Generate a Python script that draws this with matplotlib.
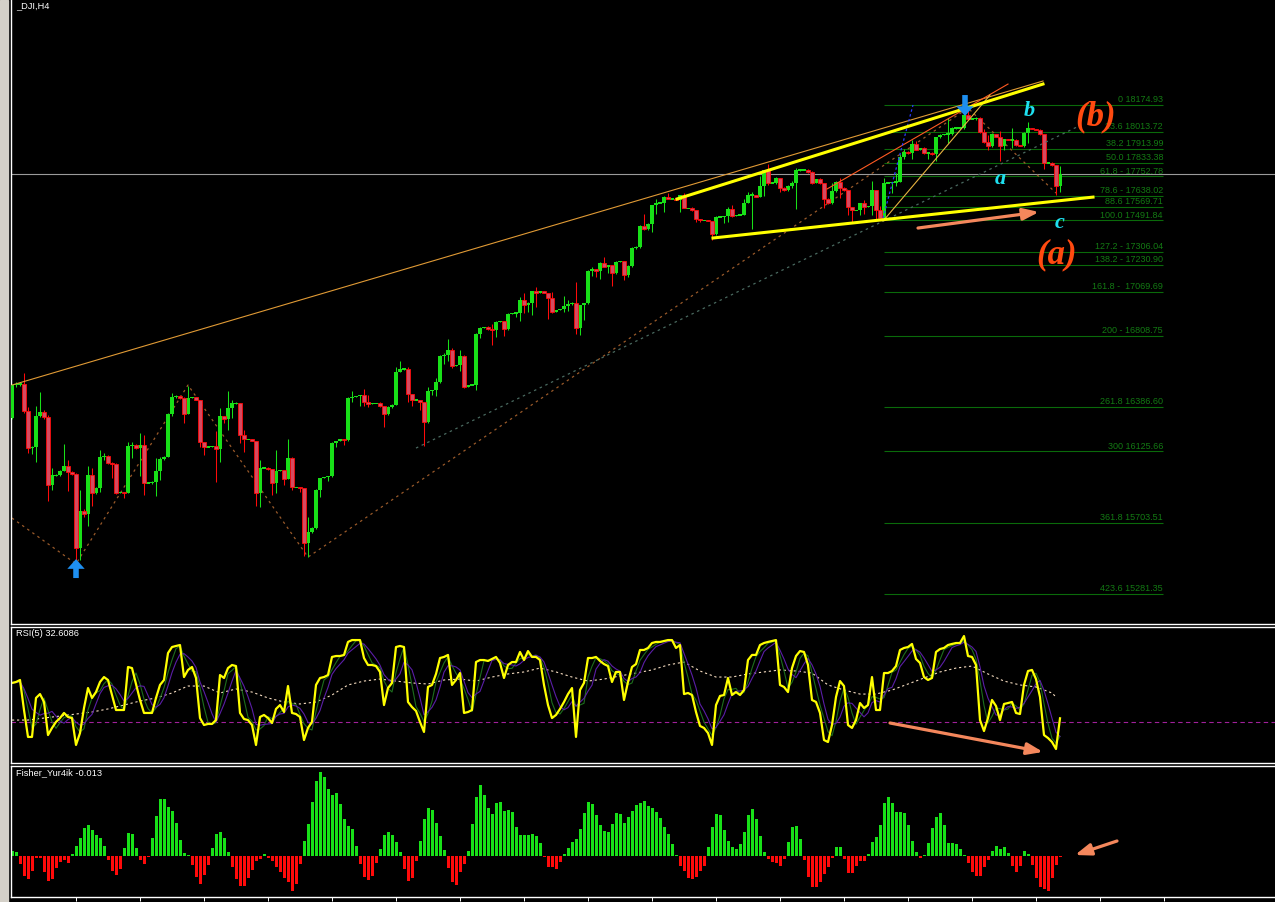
import matplotlib.pyplot as plt
import numpy as np
import pandas as pd
from matplotlib.patches import Rectangle

# H4 candles, close prices (open = previous close)
first_open = 16323
closes = [
    16518, 16524, 16524, 16364, 16145, 16151, 16335, 16358, 16329, 15926,
    15985, 15985, 16009, 16039, 16003, 15991, 15553, 15772, 15755, 15985,
    15879, 15909, 16092, 16098, 16056, 16050, 15879, 15885, 15879, 16157,
    16163, 16145, 16163, 15938, 15938, 15944, 16009, 16080, 16092, 16346,
    16447, 16453, 16441, 16346, 16441, 16447, 16429, 16181, 16151, 16151,
    16157, 16139, 16335, 16317, 16382, 16411, 16411, 16222, 16198, 16198,
    16187, 15879, 16027, 16027, 16021, 15938, 16009, 16015, 15962, 16086,
    15914, 15914, 15909, 15583, 15648, 15672, 15897, 15968, 15974, 15980,
    16175, 16187, 16198, 16192, 16441, 16447, 16453, 16459, 16417, 16405,
    16411, 16411, 16394, 16346, 16388, 16400, 16595, 16613, 16613, 16465,
    16429, 16429, 16417, 16299, 16482, 16488, 16536, 16690, 16695, 16725,
    16630, 16636, 16690, 16506, 16518, 16518, 16820, 16855, 16861, 16849,
    16843, 16891, 16897, 16849, 16938, 16944, 16944, 17021, 16991, 17003,
    17074, 17062, 17074, 17062, 17033, 16950, 16962, 16968, 16985, 16997,
    17003, 16855, 16991, 17003, 17192, 17204, 17192, 17240, 17216, 17228,
    17181, 17246, 17252, 17169, 17222, 17329, 17334, 17459, 17441, 17471,
    17583, 17595, 17595, 17630, 17619, 17619, 17613, 17642, 17565, 17565,
    17553, 17500, 17494, 17494, 17488, 17411, 17512, 17512, 17518, 17559,
    17518, 17524, 17524, 17595, 17642, 17642, 17630, 17695, 17790, 17713,
    17713, 17743, 17684, 17672, 17695, 17713, 17790, 17790, 17790, 17778,
    17713, 17737, 17713, 17619, 17595, 17666, 17719, 17684, 17672, 17571,
    17553, 17553, 17595, 17571, 17577, 17672, 17553, 17506, 17713, 17713,
    17719, 17719, 17867, 17897, 17891, 17944, 17908, 17920, 17891, 17891,
    17885, 17985, 17997, 18003, 18003, 18039, 18039, 18039, 18116, 18092,
    18092, 18098, 18015, 17956, 17932, 18003, 17985, 17932, 17974, 17968,
    17968, 17938, 17932, 18009, 18039, 18033, 18027, 18003, 17832, 17832,
    17820, 17695, 17766]

# upper / lower shadow length in points
wick_up = [
    6, 12, 12, 66, 24, 6, 60, 120, 12, 12,
    42, 6, 6, 132, 36, 6, 6, 126, 12, 54,
    42, 6, 42, 18, 6, 6, 6, 0, 0, 24,
    18, 6, 72, 60, 0, 6, 78, 12, 6, 6,
    24, 6, 6, 6, 72, 0, 0, 0, 0, 0,
    0, 90, 48, 0, 102, 18, 6, 0, 30, 0,
    0, 0, 48, 0, 6, 0, 126, 0, 0, 114,
    6, 0, 0, 0, 90, 6, 6, 0, 0, 0,
    6, 0, 0, 0, 6, 36, 0, 0, 36, 42,
    0, 0, 6, 0, 6, 6, 30, 48, 6, 12,
    0, 0, 0, 0, 24, 0, 24, 6, 12, 66,
    12, 0, 36, 6, 0, 0, 6, 6, 0, 6,
    30, 6, 0, 0, 6, 0, 0, 18, 42, 6,
    0, 24, 0, 0, 0, 36, 0, 0, 60, 24,
    6, 126, 0, 0, 6, 12, 0, 6, 36, 0,
    0, 6, 0, 0, 6, 6, 6, 6, 72, 6,
    0, 24, 0, 6, 24, 0, 0, 0, 12, 0,
    6, 0, 0, 0, 0, 0, 6, 0, 0, 12,
    24, 0, 0, 24, 18, 18, 0, 60, 0, 36,
    6, 6, 0, 6, 6, 12, 12, 6, 0, 6,
    6, 0, 6, 0, 6, 48, 6, 24, 6, 0,
    0, 0, 0, 18, 0, 54, 0, 24, 30, 0,
    0, 54, 18, 18, 6, 24, 18, 0, 6, 0,
    6, 0, 6, 0, 96, 6, 6, 0, 6, 54,
    0, 6, 6, 18, 42, 6, 0, 36, 0, 0,
    72, 6, 0, 6, 36, 0, 0, 6, 0, 0,
    6, 0, 48]
wick_dn = [
    6, 12, 12, 12, 30, 36, 90, 6, 12, 96,
    30, 6, 6, 0, 114, 6, 114, 72, 18, 72,
    78, 6, 24, 18, 6, 84, 6, 0, 30, 0,
    72, 6, 168, 72, 0, 6, 84, 54, 6, 0,
    12, 6, 6, 54, 0, 0, 0, 30, 48, 0,
    0, 192, 78, 24, 66, 60, 6, 48, 78, 0,
    0, 78, 84, 0, 6, 72, 60, 0, 36, 0,
    18, 0, 24, 78, 84, 6, 6, 42, 0, 24,
    6, 24, 0, 30, 6, 24, 0, 60, 24, 18,
    0, 0, 6, 78, 6, 6, 0, 0, 6, 48,
    36, 0, 48, 144, 6, 24, 36, 6, 48, 36,
    12, 0, 36, 6, 0, 0, 30, 24, 0, 6,
    90, 42, 0, 42, 6, 0, 24, 48, 48, 42,
    72, 84, 0, 0, 126, 6, 0, 0, 18, 30,
    6, 36, 42, 90, 6, 30, 36, 48, 0, 36,
    78, 6, 0, 30, 12, 6, 6, 6, 6, 6,
    48, 54, 0, 54, 0, 0, 0, 72, 0, 0,
    6, 18, 12, 0, 0, 36, 6, 0, 36, 36,
    6, 0, 0, 0, 0, 198, 0, 0, 60, 12,
    0, 6, 24, 6, 6, 12, 156, 6, 0, 6,
    6, 0, 6, 54, 6, 6, 6, 60, 6, 48,
    78, 0, 30, 42, 0, 54, 60, 12, 0, 0,
    60, 24, 0, 12, 6, 36, 0, 0, 6, 36,
    6, 42, 6, 0, 54, 6, 6, 0, 6, 0,
    0, 6, 6, 6, 24, 6, 0, 90, 24, 0,
    48, 6, 0, 6, 60, 0, 0, 6, 36, 0,
    6, 54, 36]

rsi = [
    59.0, 59.7, 61.2, 38.8, 18.7, 18.7, 47.8, 50.7, 44.8, 20.1,
    25.4, 29.9, 32.8, 36.6, 33.6, 32.8, 12.7, 21.6, 40.3, 55.2,
    47.8, 52.2, 59.7, 63.4, 61.2, 50.0, 38.8, 38.8, 38.8, 70.9,
    70.1, 58.2, 46.3, 36.6, 36.6, 36.6, 47.8, 57.5, 61.2, 81.3,
    85.8, 86.6, 87.3, 63.4, 68.7, 70.9, 62.7, 32.8, 27.6, 28.4,
    28.4, 31.3, 64.9, 62.7, 70.1, 72.4, 71.6, 36.6, 32.1, 31.3,
    27.6, 12.7, 33.6, 35.1, 32.8, 29.1, 39.6, 42.5, 37.3, 56.7,
    36.6, 35.8, 33.6, 16.4, 25.4, 29.9, 57.5, 62.7, 63.4, 64.9,
    78.4, 79.1, 79.1, 79.9, 89.6, 91.0, 91.0, 91.0, 77.6, 72.4,
    72.4, 71.6, 67.2, 42.5, 55.2, 59.0, 85.8, 86.6, 85.8, 44.8,
    41.0, 38.1, 29.9, 22.4, 56.0, 57.5, 65.7, 77.6, 78.4, 79.9,
    57.5, 61.2, 66.4, 36.6, 37.3, 38.8, 74.6, 76.1, 76.1, 75.4,
    76.9, 78.4, 73.9, 62.7, 72.4, 74.6, 74.6, 82.1, 76.1, 82.8,
    78.4, 78.4, 76.1, 57.5, 42.5, 32.8, 35.1, 39.6, 44.8, 50.7,
    55.2, 18.7, 53.7, 59.0, 77.6, 77.6, 78.4, 75.4, 73.1, 71.6,
    59.7, 67.2, 67.2, 46.3, 59.7, 70.9, 73.1, 83.6, 83.6, 85.1,
    88.8, 89.6, 89.6, 90.3, 91.0, 91.0, 85.1, 87.3, 50.7, 51.5,
    50.0, 37.3, 26.9, 25.4, 21.6, 12.7, 42.5, 49.3, 50.0, 62.7,
    50.0, 52.2, 50.0, 53.7, 76.1, 79.9, 79.9, 87.3, 88.8, 89.6,
    90.3, 91.0, 57.5, 56.0, 52.2, 70.1, 79.1, 82.8, 82.1, 72.4,
    46.3, 44.8, 36.6, 16.4, 14.9, 27.6, 48.5, 60.4, 56.7, 27.6,
    25.4, 31.3, 44.0, 40.3, 42.5, 63.4, 38.8, 38.8, 66.4, 66.4,
    67.9, 71.6, 83.6, 85.1, 85.8, 88.1, 76.9, 73.9, 63.4, 61.2,
    62.7, 82.1, 84.3, 85.1, 87.3, 88.1, 88.8, 88.8, 94.0, 79.1,
    78.4, 72.4, 31.3, 23.1, 32.8, 46.3, 41.8, 31.3, 43.3, 44.0,
    44.8, 36.6, 35.8, 57.5, 67.9, 68.7, 61.9, 48.5, 20.1, 17.9,
    14.9, 9.7, 32.6086]

# slow RSI average, one point every 4 bars
rsi_ma_idx = list(range(0, 261, 4)) + [261]
rsi_ma = [
    31.3, 31.3, 32.8, 34.3, 35.8, 37.3, 39.6, 42.5, 45.5, 47.8,
    51.5, 56.7, 56.7, 51.5, 54.5, 52.2, 47.8, 44.8, 43.3, 44.8,
    50.0, 57.5, 60.4, 61.9, 60.4, 59.0, 58.2, 61.2, 61.9, 60.4,
    63.4, 65.7, 67.2, 70.1, 67.2, 63.4, 60.4, 61.9, 64.2, 66.4,
    68.7, 72.4, 74.6, 67.9, 63.4, 63.4, 65.7, 67.2, 68.7, 67.9,
    66.4, 57.5, 53.7, 50.7, 50.7, 53.7, 58.2, 62.7, 67.2, 70.1,
    71.6, 65.7, 60.4, 57.5, 56.0, 51.5, 48.5]

fisher = [
    0.047, 0.037, -0.077, -0.200, -0.230, -0.150, -0.020, -0.020, -0.160, -0.250,
    -0.227, -0.120, -0.060, -0.037, -0.070, 0.017, 0.097, 0.183, 0.277, 0.307,
    0.263, 0.207, 0.183, 0.097, -0.043, -0.153, -0.193, -0.133, 0.077, 0.230,
    0.217, 0.077, -0.043, -0.083, -0.010, 0.183, 0.397, 0.567, 0.573, 0.490,
    0.450, 0.330, 0.157, 0.030, 0.010, -0.093, -0.210, -0.283, -0.193, -0.093,
    0.077, 0.223, 0.240, 0.180, 0.040, -0.110, -0.233, -0.300, -0.300, -0.223,
    -0.137, -0.050, -0.030, 0.017, -0.020, -0.050, -0.110, -0.160, -0.217, -0.260,
    -0.350, -0.277, -0.083, 0.147, 0.317, 0.537, 0.747, 0.837, 0.787, 0.667,
    0.607, 0.627, 0.517, 0.367, 0.297, 0.267, 0.097, -0.083, -0.213, -0.243,
    -0.203, -0.073, 0.067, 0.207, 0.237, 0.207, 0.137, 0.037, -0.133, -0.253,
    -0.223, -0.053, 0.147, 0.367, 0.477, 0.457, 0.327, 0.197, 0.057, -0.123,
    -0.263, -0.293, -0.163, -0.083, 0.047, 0.317, 0.587, 0.707, 0.607, 0.477,
    0.417, 0.527, 0.537, 0.447, 0.457, 0.437, 0.287, 0.207, 0.207, 0.207,
    0.217, 0.197, 0.127, -0.013, -0.113, -0.113, -0.133, -0.063, 0.017, 0.077,
    0.137, 0.167, 0.267, 0.427, 0.537, 0.517, 0.407, 0.307, 0.247, 0.237,
    0.317, 0.427, 0.417, 0.327, 0.387, 0.447, 0.507, 0.527, 0.547, 0.497,
    0.477, 0.437, 0.377, 0.287, 0.217, 0.117, 0.007, -0.103, -0.153, -0.223,
    -0.233, -0.213, -0.153, -0.103, 0.087, 0.287, 0.417, 0.407, 0.257, 0.147,
    0.087, 0.067, 0.117, 0.237, 0.407, 0.467, 0.367, 0.197, 0.037, -0.033,
    -0.063, -0.073, -0.103, -0.033, 0.137, 0.287, 0.297, 0.167, -0.043, -0.213,
    -0.307, -0.310, -0.257, -0.180, -0.107, -0.023, 0.087, 0.087, -0.033, -0.173,
    -0.167, -0.100, -0.047, -0.047, 0.020, 0.143, 0.187, 0.310, 0.533, 0.593,
    0.527, 0.443, 0.443, 0.427, 0.310, 0.153, 0.043, -0.023, 0.010, 0.133,
    0.277, 0.393, 0.433, 0.310, 0.133, 0.133, 0.120, 0.067, 0.010, -0.067,
    -0.157, -0.200, -0.200, -0.107, -0.040, 0.050, 0.100, 0.067, 0.087, 0.027,
    -0.100, -0.157, -0.100, 0.050, 0.020, -0.090, -0.223, -0.313, -0.333, -0.347,
    -0.223, -0.090, -0.013]

fib_prices = [18174.93, 18013.72, 17913.99, 17833.38, 17752.78, 17638.02, 17569.71, 17491.84,
              17306.04, 17230.90, 17069.69, 16808.75, 16386.60, 16125.66, 15703.51, 15281.35]
fib_labels = ["0 18174.93", "23.6 18013.72", "38.2 17913.99", "50.0 17833.38",
              "61.8 - 17752.78", "78.6 - 17638.02", "88.6 17569.71", "100.0 17491.84",
              "127.2 - 17306.04", "138.2 - 17230.90", "161.8 -  17069.69", "200 - 16808.75",
              "261.8 16386.60", "300 16125.66", "361.8 15703.51", "423.6 15281.35"]

zigzag_idx = [0, 16, 44, 74, 239, 261]
zigzag_px = [15731, 15460, 16518, 15500, 18157, 17654]

# trendlines: x0, price0, x1, price1, color, width(pt), style
trendlines = [
    (0, 16518, 257.75, 18317, '#e09a35', 0.8, '-'),
    (203.75, 17678, 249, 18299, '#ff5a22', 0.8, '-'),
    (217.75, 17488, 244.5, 18234, '#e8b440', 0.8, '-'),
    (217.75, 17506, 225.25, 18175, '#2a3cff', 0.9, (0, (2, 2))),
    (101, 16145, 266.25, 18045, '#4a6a60', 0.9, (0, (2, 3))),
    (166.25, 17619, 257.75, 18299, '#ffff00', 2.2, '-'),
    (175.25, 17388, 270.25, 17630, '#ffff00', 2.2, '-'),
]

W, H = 1275, 902
GREEN = '#18e018'
RED = '#ff0a0a'

closes = np.array(closes, float)
opens = np.r_[first_open, closes[:-1]]
idx = np.arange(len(closes))
top = np.maximum(opens, closes)
bot = np.minimum(opens, closes)
highs = top + np.array(wick_up)
lows = bot - np.array(wick_dn)
bull = closes >= opens
small = (top - bot) < 7
body_b = np.where(small, (top + bot) / 2 - 3.5, bot)
body_h = np.where(small, 7, top - bot)

fig = plt.figure(figsize=(W / 100, H / 100), dpi=100, facecolor='black')
fig.patches.append(Rectangle((0, 0), 8 / W, 1, transform=fig.transFigure, color='#d4d0c8'))


def panel(t, b):
    ax = fig.add_axes([11 / W, 1 - b / H, (1290 - 11) / W, (b - t) / H])
    ax.set_facecolor('black')
    for s in ax.spines.values():
        s.set_color('white')
        s.set_linewidth(1)
    ax.spines['right'].set_visible(False)
    ax.set_xlim(-0.25, (1290 - 11) / 4 - 0.25)
    ax.set_xticks([])
    ax.set_yticks([])
    return ax


ax1 = panel(0, 624)
ax1.spines['top'].set_visible(False)
ax1.set_ylim(18796.3 - 624 * 5.917, 18796.3)
ax2 = panel(627, 763)
ax2.set_ylim(-0.75, 100.75)
ax3 = panel(766, 897)
ax3.set_ylim(-0.41, 0.90)

# main chart
ax1.axhline(closes[-1], color='#9a9a9a', lw=0.8, zorder=1)
ax1.hlines(fib_prices, 218, 287.75, color='#0a6a0a', lw=0.8, zorder=1)
for p, lab in zip(fib_prices, fib_labels):
    ax1.text(287.75, p + 5, lab, ha='right', va='bottom', color='#137a13',
             fontsize=6.5, family='Liberation Sans', zorder=2)

ax1.plot(zigzag_idx, zigzag_px, color='#9a5a2a', lw=0.9, ls=(0, (2, 3)), zorder=2)

ax1.vlines(idx[bull], lows[bull], highs[bull], color=GREEN, lw=0.75, zorder=3)
ax1.vlines(idx[~bull], lows[~bull], highs[~bull], color=RED, lw=0.75, zorder=3)
ax1.bar(idx[bull], body_h[bull], bottom=body_b[bull], width=0.8, color=GREEN, lw=0, zorder=3)
ax1.bar(idx[~bull], body_h[~bull], bottom=body_b[~bull], width=0.8,
        facecolor='#d64a60', edgecolor=RED, lw=0.6, zorder=3)

for x0, p0, x1, p1, c, lw, ls in trendlines:
    ax1.plot([x0, x1], [p0, p1], color=c, lw=lw, ls=ls, zorder=4)

arrow_kw = dict(arrowstyle='-|>,head_length=0.95,head_width=0.35', color='#f4875c',
                lw=2.3, shrinkA=0, shrinkB=0, mutation_scale=10)
ax1.annotate('', xy=(256.75, 17542), xytext=(226.5, 17447), arrowprops=arrow_kw, zorder=5)

blue_kw = dict(arrowstyle='simple,head_length=0.7,head_width=1.25,tail_width=0.4',
               color='#1e8ff0', lw=0, shrinkA=0, shrinkB=0, mutation_scale=10)
ax1.annotate('', xy=(16, 15488), xytext=(16, 15376), arrowprops=blue_kw, zorder=5)
ax1.annotate('', xy=(238.25, 18110), xytext=(238.25, 18234), arrowprops=blue_kw, zorder=5)

wave_kw = dict(family='Liberation Serif', style='italic', weight='bold', zorder=6)
ax1.text(254.25, 18110, 'b', color='#1ee0f0', fontsize=16, ha='center', va='baseline', **wave_kw)
ax1.text(247, 17707, 'a', color='#1ee0f0', fontsize=16, ha='center', va='baseline', **wave_kw)
ax1.text(262, 17447, 'c', color='#1ee0f0', fontsize=16, ha='center', va='baseline', **wave_kw)
ax1.text(271, 18057, '(b)', color='#ff4a10', fontsize=25, ha='center', va='baseline', **wave_kw)
ax1.text(261.25, 17240, '(a)', color='#ff4a10', fontsize=25, ha='center', va='baseline', **wave_kw)

# RSI window
rs = pd.Series(rsi)
ax2.axhline(30, color='#a0209a', lw=0.8, ls=(0, (4, 3)))
ax2.plot(rsi_ma_idx, rsi_ma, color='#f5dcc0', lw=0.8, ls=(0, (2, 2.5)))
ax2.plot(idx, rs.rolling(3, min_periods=1).mean(), color='#1d6e1d', lw=0.8)
ax2.plot(idx, rs.rolling(5, min_periods=1).mean(), color='#5a1ea6', lw=0.8)
ax2.plot(idx, rs, color='#ffff00', lw=1.6)
ax2.annotate('', xy=(257.75, 7.5), xytext=(219.5, 29.1), arrowprops=arrow_kw)

# Fisher histogram
fv = np.array(fisher)
ax3.bar(idx, fv, width=0.75, color=np.where(fv >= 0, GREEN, RED), lw=0)
ax3.annotate('', xy=(265.75, 0.01), xytext=(276.25, 0.15), arrowprops=arrow_kw)
ax3.set_xticks(np.arange(16, 300, 16))
ax3.tick_params(axis='x', direction='out', length=3, width=0.7, colors='white', labelbottom=False)

lab_kw = dict(color='white', fontsize=6.7, family='Liberation Sans', va='top')
fig.text(16 / W, 1 - 1 / H, '_DJI,H4', **lab_kw)
fig.text(16 / W, 1 - 629 / H, f'RSI(5) {rsi[-1]:.4f}', **lab_kw)
fig.text(16 / W, 1 - 768 / H, f'Fisher_Yur4ik {fisher[-1]:.3f}', **lab_kw)

plt.savefig('out.png', dpi=100, facecolor='black')
